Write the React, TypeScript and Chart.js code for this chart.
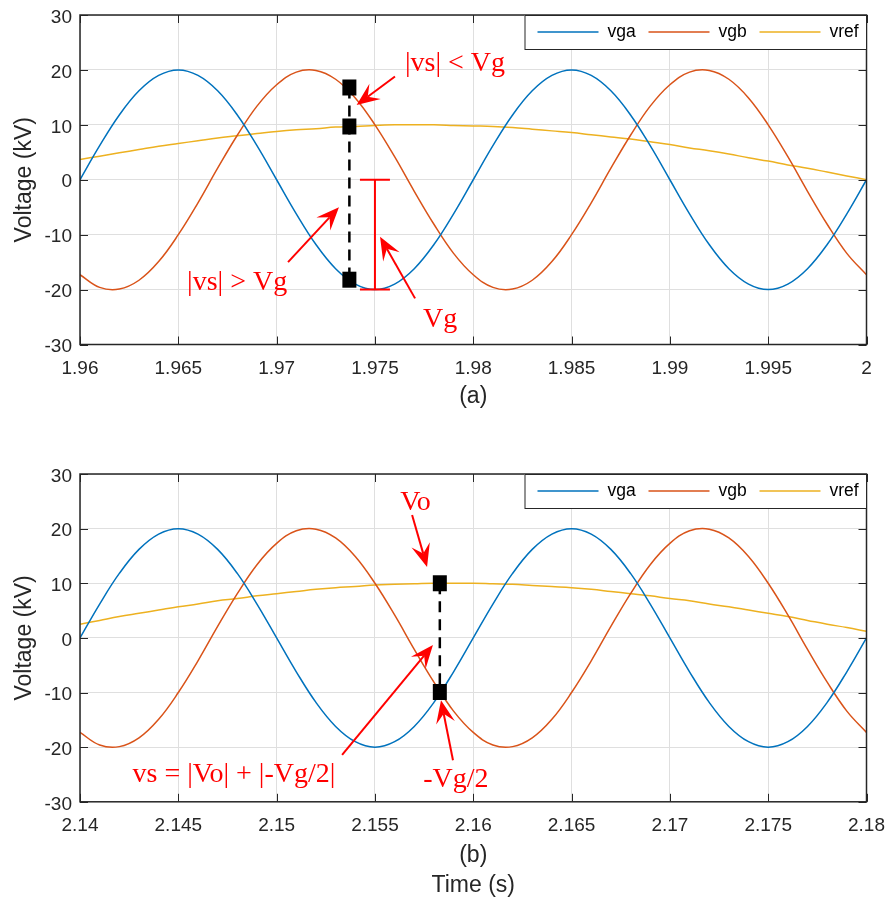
import React, { useEffect, useRef } from 'react';
import { Chart, registerables } from 'chart.js';

Chart.register(...registerables);

// ---------- data ----------
const seriesNames = ['vga', 'vgb', 'vref'];
const seriesColors = ['#0072BD', '#D95319', '#EDB120'];

const timeA = [1.960, 1.961, 1.962, 1.963, 1.964, 1.965, 1.966, 1.967, 1.968, 1.969, 1.970, 1.971, 1.972, 1.973, 1.974, 1.975, 1.976, 1.977, 1.978, 1.979, 1.980, 1.981, 1.982, 1.983, 1.984, 1.985, 1.986, 1.987, 1.988, 1.989, 1.990, 1.991, 1.992, 1.993, 1.994, 1.995, 1.996, 1.997, 1.998, 1.999, 2.000];
const vgaA = [0, 6.2, 11.8, 16.2, 19.0, 20, 19.0, 16.2, 11.8, 6.2, 0, -6.2, -11.8, -16.2, -19.0, -20, -19.0, -16.2, -11.8, -6.2, 0, 6.2, 11.8, 16.2, 19.0, 20, 19.0, 16.2, 11.8, 6.2, 0, -6.2, -11.8, -16.2, -19.0, -20, -19.0, -16.2, -11.8, -6.2, 0];
const vgbA = [-17.3, -19.6, -19.9, -18.3, -14.9, -10, -4.2, 2.1, 8.1, 13.4, 17.3, 19.6, 19.9, 18.3, 14.9, 10, 4.2, -2.1, -8.1, -13.4, -17.3, -19.6, -19.9, -18.3, -14.9, -10, -4.2, 2.1, 8.1, 13.4, 17.3, 19.6, 19.9, 18.3, 14.9, 10, 4.2, -2.1, -8.1, -13.4, -17.3];
const vrefA = [3.7, 4.3, 4.9, 5.5, 6.1, 6.6, 7.1, 7.6, 8.0, 8.4, 8.8, 9.1, 9.3, 9.6, 9.7, 9.9, 10.0, 10.0, 10.0, 9.9, 9.8, 9.7, 9.5, 9.2, 8.9, 8.6, 8.2, 7.8, 7.4, 6.9, 6.4, 5.8, 5.3, 4.7, 4.0, 3.4, 2.7, 2.1, 1.4, 0.7, 0];

const timeB = [2.140, 2.141, 2.142, 2.143, 2.144, 2.145, 2.146, 2.147, 2.148, 2.149, 2.150, 2.151, 2.152, 2.153, 2.154, 2.155, 2.156, 2.157, 2.158, 2.159, 2.160, 2.161, 2.162, 2.163, 2.164, 2.165, 2.166, 2.167, 2.168, 2.169, 2.170, 2.171, 2.172, 2.173, 2.174, 2.175, 2.176, 2.177, 2.178, 2.179, 2.180];
const vgaB = [0, 6.2, 11.8, 16.2, 19.0, 20, 19.0, 16.2, 11.8, 6.2, 0, -6.2, -11.8, -16.2, -19.0, -20, -19.0, -16.2, -11.8, -6.2, 0, 6.2, 11.8, 16.2, 19.0, 20, 19.0, 16.2, 11.8, 6.2, 0, -6.2, -11.8, -16.2, -19.0, -20, -19.0, -16.2, -11.8, -6.2, 0];
const vgbB = [-17.3, -19.6, -19.9, -18.3, -14.9, -10, -4.2, 2.1, 8.1, 13.4, 17.3, 19.6, 19.9, 18.3, 14.9, 10, 4.2, -2.1, -8.1, -13.4, -17.3, -19.6, -19.9, -18.3, -14.9, -10, -4.2, 2.1, 8.1, 13.4, 17.3, 19.6, 19.9, 18.3, 14.9, 10, 4.2, -2.1, -8.1, -13.4, -17.3];
const vrefB = [2.5, 3.2, 3.9, 4.5, 5.1, 5.7, 6.2, 6.8, 7.2, 7.7, 8.1, 8.5, 8.9, 9.2, 9.4, 9.7, 9.8, 9.9, 10.0, 10.0, 10.0, 9.9, 9.8, 9.6, 9.4, 9.2, 8.9, 8.5, 8.1, 7.7, 7.2, 6.8, 6.2, 5.7, 5.1, 4.5, 3.9, 3.2, 2.5, 1.9, 1.2];

const xTicksA = [1.96, 1.965, 1.97, 1.975, 1.98, 1.985, 1.99, 1.995, 2.0];
const xTickLabelsA = ['1.96', '1.965', '1.97', '1.975', '1.98', '1.985', '1.99', '1.995', '2'];
const xTicksB = [2.14, 2.145, 2.15, 2.155, 2.16, 2.165, 2.17, 2.175, 2.18];
const xTickLabelsB = ['2.14', '2.145', '2.15', '2.155', '2.16', '2.165', '2.17', '2.175', '2.18'];
const yTicks = [-30, -20, -10, 0, 10, 20, 30];
const yTickLabels = ['-30', '-20', '-10', '0', '10', '20', '30'];

// ---------- annotations (data coordinates) ----------
const markersA = [{ t: 1.9737, v: 16.8 }, { t: 1.9737, v: 9.7 }, { t: 1.9737, v: -18.2 }];
const dashedA = [{ t: 1.9737, v1: 16.8, v2: -18.2 }];
const barsA = [{ t: 1.975, v1: 0, v2: -20 }];
const arrowsA = [
  { t1: 1.97602, v1: 18.8, t2: 1.97407, v2: 13.6 },
  { t1: 1.97058, v1: -15.0, t2: 1.97317, v2: -5.0 },
  { t1: 1.97704, v1: -21.6, t2: 1.97526, v2: -10.4 },
];
const labelsA = [
  { text: '|vs| < Vg', t: 1.97907, v: 19.8 },
  { text: '|vs| > Vg', t: 1.96799, v: -20.1 },
  { text: 'Vg', t: 1.97831, v: -26.8 },
];

const markersB = [{ t: 2.1583, v: 10 }, { t: 2.1583, v: -9.9 }];
const dashedB = [{ t: 2.1583, v1: 10, v2: -9.9 }];
const barsB: { t: number; v1: number; v2: number }[] = [];
const arrowsB = [
  { t1: 2.15689, v1: 22.5, t2: 2.15765, v2: 13.0 },
  { t1: 2.15333, v1: -21.4, t2: 2.15795, v2: -1.3 },
  { t1: 2.15897, v1: -22.4, t2: 2.15836, v2: -11.4 },
];
const labelsB = [
  { text: 'Vo', t: 2.15706, v: 23.4 },
  { text: 'vs = |Vo| + |-Vg/2|', t: 2.14783, v: -26.4 },
  { text: '-Vg/2', t: 2.15912, v: -27.2 },
];

// ---------- styling ----------
const SANS = '"Liberation Sans", Arial, Helvetica, sans-serif';
const SERIF = '"Liberation Serif", "Times New Roman", serif';
const AXIS_COLOR = '#262626';
const GRID_COLOR = '#dfdfdf';
const RED = '#ff0000';

function drawArrow(ctx: CanvasRenderingContext2D, x1: number, y1: number, x2: number, y2: number) {
  const L = 23;
  const W = 9.5;
  const dx = x2 - x1;
  const dy = y2 - y1;
  const len = Math.hypot(dx, dy);
  const ux = dx / len;
  const uy = dy / len;
  const nx = -uy;
  const ny = ux;
  ctx.strokeStyle = RED;
  ctx.fillStyle = RED;
  ctx.lineWidth = 2;
  ctx.setLineDash([]);
  ctx.beginPath();
  ctx.moveTo(x1, y1);
  ctx.lineTo(x2 - ux * L * 0.6, y2 - uy * L * 0.6);
  ctx.stroke();
  ctx.beginPath();
  ctx.moveTo(x2, y2);
  ctx.lineTo(x2 - ux * L + nx * W, y2 - uy * L + ny * W);
  ctx.lineTo(x2 - ux * L * 0.6, y2 - uy * L * 0.6);
  ctx.lineTo(x2 - ux * L - nx * W, y2 - uy * L - ny * W);
  ctx.closePath();
  ctx.fill();
}

function makeOverlay(cfg: any) {
  return {
    id: 'overlay' + cfg.key,
    afterDatasetsDraw(chart: any) {
      const { ctx, chartArea } = chart;
      const xs = chart.scales.x;
      const ys = chart.scales.y;
      const { left, right, top, bottom } = chartArea;
      const X = (t: number) => xs.getPixelForValue(t);
      const Y = (v: number) => ys.getPixelForValue(v);
      ctx.save();

      // inward ticks on all four sides
      ctx.strokeStyle = AXIS_COLOR;
      ctx.lineWidth = 1;
      ctx.setLineDash([]);
      ctx.beginPath();
      cfg.xTicks.forEach((v: number) => {
        const px = Math.round(X(v)) + 0.5;
        ctx.moveTo(px, bottom);
        ctx.lineTo(px, bottom - 8);
        ctx.moveTo(px, top);
        ctx.lineTo(px, top + 8);
      });
      yTicks.forEach((v) => {
        const py = Math.round(Y(v)) + 0.5;
        ctx.moveTo(left, py);
        ctx.lineTo(left + 8, py);
        ctx.moveTo(right, py);
        ctx.lineTo(right - 8, py);
      });
      ctx.stroke();

      // axes box
      ctx.lineWidth = 1.5;
      ctx.strokeRect(left, top, right - left, bottom - top);

      // legend
      const lw = 342;
      const lh = 34;
      const lx = right - lw;
      const ly = top;
      ctx.fillStyle = '#ffffff';
      ctx.fillRect(lx, ly, lw, lh);
      ctx.strokeStyle = AXIS_COLOR;
      ctx.lineWidth = 1;
      ctx.strokeRect(lx + 0.5, ly + 0.5, lw - 0.5, lh);
      const lineStarts = [13, 124, 235];
      ctx.font = '17.5px ' + SANS;
      ctx.textBaseline = 'middle';
      ctx.textAlign = 'left';
      seriesNames.forEach((name, i) => {
        const sx = lx + lineStarts[i];
        ctx.strokeStyle = seriesColors[i];
        ctx.lineWidth = 1.5;
        ctx.beginPath();
        ctx.moveTo(sx, ly + 17);
        ctx.lineTo(sx + 61, ly + 17);
        ctx.stroke();
        ctx.fillStyle = '#000000';
        ctx.fillText(name, sx + 70, ly + 17.5);
      });

      // dashed connector lines
      ctx.strokeStyle = '#000000';
      ctx.lineWidth = 2.5;
      ctx.setLineDash([11, 7]);
      cfg.dashed.forEach((d: any) => {
        ctx.beginPath();
        ctx.moveTo(X(d.t), Y(d.v1));
        ctx.lineTo(X(d.t), Y(d.v2));
        ctx.stroke();
      });
      ctx.setLineDash([]);

      // I-bars
      ctx.strokeStyle = RED;
      ctx.lineWidth = 2;
      cfg.bars.forEach((b: any) => {
        const px = X(b.t);
        ctx.beginPath();
        ctx.moveTo(px, Y(b.v1));
        ctx.lineTo(px, Y(b.v2));
        ctx.moveTo(px - 15, Y(b.v1));
        ctx.lineTo(px + 15, Y(b.v1));
        ctx.moveTo(px - 15, Y(b.v2));
        ctx.lineTo(px + 15, Y(b.v2));
        ctx.stroke();
      });

      // square markers
      ctx.fillStyle = '#000000';
      cfg.markers.forEach((m: any) => {
        ctx.fillRect(X(m.t) - 7, Y(m.v) - 8, 14, 16);
      });

      // arrows
      cfg.arrows.forEach((a: any) => drawArrow(ctx, X(a.t1), Y(a.v1), X(a.t2), Y(a.v2)));

      // text labels
      ctx.fillStyle = RED;
      ctx.font = '28px ' + SERIF;
      ctx.textAlign = 'center';
      ctx.textBaseline = 'alphabetic';
      cfg.labels.forEach((l: any) => ctx.fillText(l.text, X(l.t), Y(l.v)));

      ctx.restore();
    },
  };
}

function makeConfig(p: any) {
  const datasets = [p.vga, p.vgb, p.vref].map((vals: number[], i: number) => ({
    label: seriesNames[i],
    data: p.time.map((t: number, k: number) => ({ x: t, y: vals[k] })),
    borderColor: seriesColors[i],
    backgroundColor: seriesColors[i],
    borderWidth: 1.5,
    pointRadius: 0,
    tension: 0.4,
    fill: false,
  }));
  return {
    type: 'line',
    data: { datasets },
    options: {
      responsive: false,
      maintainAspectRatio: false,
      animation: false,
      layout: { padding: { top: p.padTop, right: 20.5, left: 0, bottom: 0 } },
      plugins: { legend: { display: false }, tooltip: { enabled: false } },
      scales: {
        x: {
          type: 'linear',
          min: p.xTicks[0],
          max: p.xTicks[p.xTicks.length - 1],
          afterBuildTicks: (s: any) => {
            s.ticks = p.xTicks.map((v: number) => ({ value: v }));
          },
          afterFit: (s: any) => {
            s.height = p.xHeight;
            s.paddingLeft = 0;
            s.paddingRight = 0;
          },
          ticks: {
            autoSkip: false,
            maxRotation: 0,
            padding: 12.5,
            color: AXIS_COLOR,
            font: { family: SANS, size: 19 },
            callback: (_v: any, i: number) => p.xLabels[i],
          },
          grid: { color: GRID_COLOR, lineWidth: 1, drawTicks: false },
          border: { display: false },
          title: {
            display: true,
            text: p.xTitle,
            color: AXIS_COLOR,
            font: { family: SANS, size: 23, lineHeight: '30.5px' },
            padding: { top: 0, bottom: p.xTitlePad },
          },
        },
        y: {
          type: 'linear',
          min: -30,
          max: 30,
          afterBuildTicks: (s: any) => {
            s.ticks = yTicks.map((v) => ({ value: v }));
          },
          afterFit: (s: any) => {
            s.width = 80;
            s.paddingTop = 0;
            s.paddingBottom = 0;
          },
          ticks: {
            autoSkip: false,
            padding: 8,
            labelOffset: 2.5,
            color: AXIS_COLOR,
            font: { family: SANS, size: 19 },
            callback: (_v: any, i: number) => yTickLabels[i],
          },
          grid: { color: GRID_COLOR, lineWidth: 1, drawTicks: false },
          border: { display: false },
          title: {
            display: true,
            text: 'Voltage (kV)',
            color: AXIS_COLOR,
            font: { family: SANS, size: 23 },
            padding: { top: 11, bottom: 0 },
          },
        },
      },
    },
    plugins: [makeOverlay(p.overlay)],
  };
}

function ChartCanvas({ params, top, height }: { params: any; top: number; height: number }) {
  const ref = useRef<HTMLCanvasElement | null>(null);
  useEffect(() => {
    if (!ref.current) return;
    const chart = new Chart(ref.current, makeConfig(params) as any);
    return () => chart.destroy();
  }, []);
  return (
    <canvas
      ref={ref}
      width={887}
      height={height}
      style={{ position: 'absolute', left: 0, top, width: 887, height, display: 'block' }}
    />
  );
}

const paramsA = {
  time: timeA,
  vga: vgaA,
  vgb: vgbA,
  vref: vrefA,
  xTicks: xTicksA,
  xLabels: xTickLabelsA,
  xTitle: '(a)',
  xTitlePad: 38,
  padTop: 15,
  xHeight: 105.5,
  overlay: { key: 'A', xTicks: xTicksA, markers: markersA, dashed: dashedA, bars: barsA, arrows: arrowsA, labels: labelsA },
};

const paramsB = {
  time: timeB,
  vga: vgaB,
  vgb: vgbB,
  vref: vrefB,
  xTicks: xTicksB,
  xLabels: xTickLabelsB,
  xTitle: ['(b)', 'Time (s)'],
  xTitlePad: -4,
  padTop: 24,
  xHeight: 95.2,
  overlay: { key: 'B', xTicks: xTicksB, markers: markersB, dashed: dashedB, bars: barsB, arrows: arrowsB, labels: labelsB },
};

export default function App() {
  return (
    <div style={{ position: 'absolute', left: 0, top: 0, width: 887, height: 897, background: '#ffffff', overflow: 'hidden' }}>
      <ChartCanvas params={paramsA} top={0} height={450} />
      <ChartCanvas params={paramsB} top={450} height={447} />
    </div>
  );
}
